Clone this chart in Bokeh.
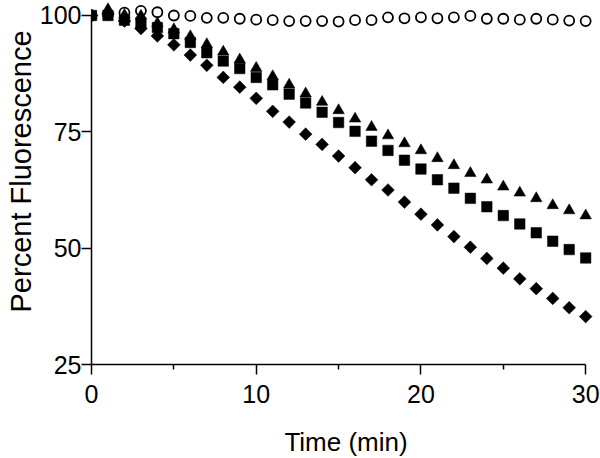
import math
from bokeh.plotting import figure
from bokeh.models import Range1d, FixedTicker, Title, ColumnDataSource
from bokeh.embed import file_html
from bokeh.resources import INLINE

# ---- data ----
time_min = list(range(31))

control = [100.0, 100.2, 100.6, 101.0, 100.7, 100.0, 99.9, 99.5, 99.5, 99.3, 99.1,
           99.0, 98.8, 98.8, 98.8, 98.7, 99.0, 99.0, 99.6, 99.4, 99.6,
           99.4, 99.6, 99.9, 99.3, 99.3, 99.1, 99.3, 99.1, 98.9, 98.8]

triangles = [100.0, 101.3, 100.1, 99.9, 98.3, 97.0, 95.5, 93.8, 92.2, 90.5, 88.7,
             86.9, 85.1, 83.2, 81.4, 79.6, 77.8, 76.0, 74.2, 72.5, 71.0,
             69.3, 67.8, 66.1, 64.7, 63.2, 61.9, 60.7, 59.2, 58.1, 57.0]

squares = [100.0, 100.0, 99.0, 98.4, 97.4, 96.1, 94.2, 92.0, 90.2, 88.6, 86.7,
           85.1, 83.1, 81.2, 79.2, 77.0, 75.1, 73.0, 71.0, 68.9, 67.0,
           64.7, 62.9, 60.7, 58.9, 57.0, 55.2, 53.3, 51.5, 49.7, 47.9]

diamonds = [100.0, 100.3, 98.8, 97.2, 95.6, 93.7, 91.5, 89.3, 86.7, 84.6, 82.2,
            79.4, 77.1, 74.5, 72.3, 69.8, 67.3, 64.7, 62.5, 59.9, 57.3,
            55.0, 52.5, 50.2, 47.8, 45.7, 43.4, 41.3, 39.2, 37.2, 35.3]

x_ticks = [0, 10, 20, 30]
x_minor_ticks = [5, 15, 25]
y_ticks = [25, 50, 75, 100]

FONT = "Liberation Sans"

src = ColumnDataSource(dict(t=time_min, c=control, tri=triangles, sq=squares, di=diamonds))

p = figure(frame_width=509, frame_height=364,
           x_range=Range1d(0, 30.9), y_range=Range1d(25, 103.22),
           output_backend="svg", toolbar_location=None,
           min_border_left=91, min_border_right=0, min_border_top=0, min_border_bottom=94)

p.outline_line_color = None
p.xgrid.visible = False
p.ygrid.visible = False
p.background_fill_color = "white"
p.border_fill_color = "white"

# markers
p.scatter("t", "c", source=src, marker="circle", size=10, fill_alpha=0,
          line_color="black", line_width=1.8)
p.scatter("t", "di", source=src, marker="square", angle=math.pi / 4, size=9,
          fill_color="black", line_color="black", line_width=0.5)
p.scatter("t", "sq", source=src, marker="square", size=10.5,
          fill_color="black", line_color="black", line_width=0.5)
p.scatter("t", "tri", source=src, marker="triangle", size=11.5,
          fill_color="black", line_color="black", line_width=0.5)

# x axis
xa = p.xaxis[0]
xa.ticker = FixedTicker(ticks=x_ticks, minor_ticks=x_minor_ticks)
xa.bounds = (0, 30)
xa.axis_line_width = 1.5
xa.axis_line_color = "black"
xa.major_tick_line_width = 1.5
xa.minor_tick_line_width = 1.5
xa.major_tick_out = 10
xa.major_tick_in = 0
xa.minor_tick_out = 5
xa.minor_tick_in = 0
xa.major_label_text_font = FONT
xa.major_label_text_font_size = "25px"
xa.major_label_text_color = "black"
xa.major_label_standoff = 10
xa.axis_label = "Time (min)"
xa.axis_label_text_font = FONT
xa.axis_label_text_font_size = "26px"
xa.axis_label_text_font_style = "normal"
xa.axis_label_text_color = "black"
xa.axis_label_standoff = 21

# y axis
ya = p.yaxis[0]
ya.ticker = FixedTicker(ticks=y_ticks, minor_ticks=[])
ya.bounds = (25, 100)
ya.axis_line_width = 1.5
ya.axis_line_color = "black"
ya.major_tick_line_width = 1.5
ya.major_tick_out = 10
ya.major_tick_in = 0
ya.minor_tick_out = 0
ya.minor_tick_in = 0
ya.major_label_text_font = FONT
ya.major_label_text_font_size = "25px"
ya.major_label_text_color = "black"
ya.major_label_standoff = 0

ytitle = Title(text="Percent Fluorescence", align="left", offset=52, standoff=0,
               text_font=FONT, text_font_size="29px", text_font_style="normal",
               text_color="black")
p.add_layout(ytitle, "left")

open("out.html", "w").write(file_html(p, INLINE))
